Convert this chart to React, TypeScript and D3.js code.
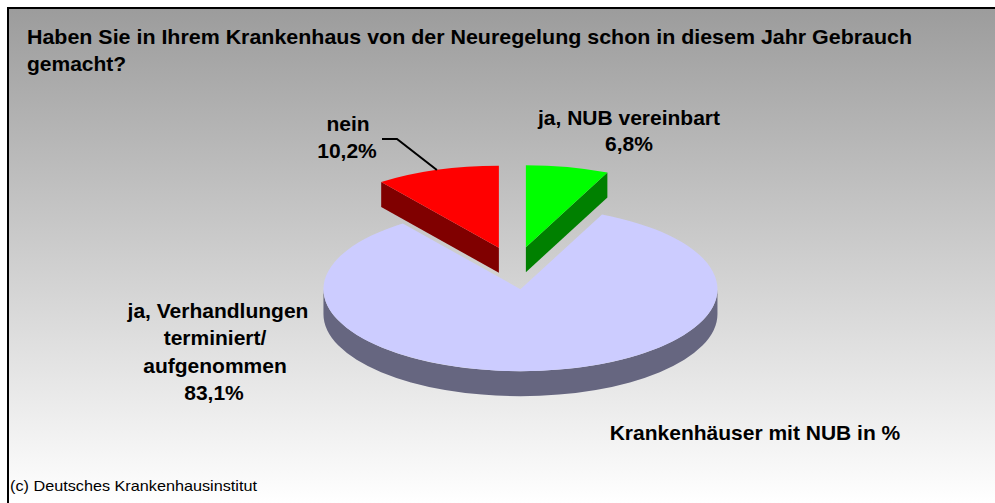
import React from "react";
import * as d3 from "d3";

const categories = ["ja, NUB vereinbart", "ja, Verhandlungen terminiert/ aufgenommen", "nein"];
const values = [6.8, 83.1, 10.2];
const labelLines = [
  ["ja, NUB vereinbart", "6,8%"],
  ["ja, Verhandlungen", "terminiert/", "aufgenommen", "83,1%"],
  ["nein", "10,2%"],
];
const topColors = ["#00ff00", "#ccccff", "#ff0000"];
const sideColors = ["#008000", "#666680", "#800000"];
const titleLines = [
  "Haben Sie in Ihrem Krankenhaus von der Neuregelung schon in diesem Jahr Gebrauch",
  "gemacht?",
];
const subtitle = "Krankenhäuser mit NUB in %";
const footer = "(c) Deutsches Krankenhausinstitut";

// layout
const W = 995;
const H = 503;
const CX = 515;
const CY = 268;
const RX = 197;
const RY = 82;
const DEPTH = 25;
const EXPLODE = 0.26;
const FONT = "'Liberation Sans', Arial, Helvetica, sans-serif";

const labelPos = [
  [{ x: 629, y: 125 }, { x: 629, y: 151 }],
  [{ x: 218, y: 318 }, { x: 215, y: 345 }, { x: 215, y: 373 }, { x: 214, y: 400 }],
  [{ x: 348, y: 131 }, { x: 347, y: 158 }],
];
const leaderStart = [[382, 139], [397, 139]];

export default function App() {
  const pie = d3.pie<number>().sort(null).value((d) => d);
  const arcs = pie(values);

  const slices = arcs.map((a, i) => {
    const mid = (a.startAngle + a.endAngle) / 2;
    const ox = CX + EXPLODE * RX * Math.sin(mid);
    const oy = CY - EXPLODE * RY * Math.cos(mid);
    const pt = (ang: number, dy = 0): [number, number] => [
      ox + RX * Math.sin(ang),
      oy - RY * Math.cos(ang) + dy,
    ];
    const a0 = a.startAngle;
    const a1 = a.endAngle;
    const large = a1 - a0 > Math.PI ? 1 : 0;
    const p0 = pt(a0);
    const p1 = pt(a1);
    const top = `M${ox},${oy}L${p0[0]},${p0[1]}A${RX},${RY} 0 ${large} 1 ${p1[0]},${p1[1]}Z`;
    const walls: string[] = [];
    const wall = (ang: number) => {
      const r = pt(ang);
      return `M${ox},${oy}L${r[0]},${r[1]}L${r[0]},${r[1] + DEPTH}L${ox},${oy + DEPTH}Z`;
    };
    if (Math.sin(a0) < -1e-6) walls.push(wall(a0));
    if (Math.sin(a1) > 1e-6) walls.push(wall(a1));
    const s = Math.max(a0, Math.PI / 2);
    const e = Math.min(a1, (3 * Math.PI) / 2);
    if (e > s) {
      const q0 = pt(s);
      const q1 = pt(e);
      const lg = e - s > Math.PI ? 1 : 0;
      walls.push(
        `M${q0[0]},${q0[1]}A${RX},${RY} 0 ${lg} 1 ${q1[0]},${q1[1]}L${q1[0]},${q1[1] + DEPTH}A${RX},${RY} 0 ${lg} 0 ${q0[0]},${q0[1] + DEPTH}Z`
      );
    }
    return { i, mid, top, walls, rimMid: pt(mid) };
  });

  const order = [...slices].sort((p, q) => Math.cos(q.mid) - Math.cos(p.mid));
  const red = slices[2];
  const leader = d3.line()([...(leaderStart as [number, number][]), red.rimMid]);

  return (
    <svg
      width={W}
      height={H}
      style={{ position: "absolute", left: 0, top: 0, display: "block" }}
      fontFamily={FONT}
    >
      <defs>
        <linearGradient id="bg" x1="0" y1="8" x2="0" y2={H} gradientUnits="userSpaceOnUse">
          <stop offset="0" stopColor="#9c9c9c" />
          <stop offset="1" stopColor="#ffffff" />
        </linearGradient>
      </defs>
      <rect x={0} y={0} width={W} height={H} fill="#ffffff" />
      <rect x={8} y={8} width={W + 10} height={H + 10} fill="url(#bg)" stroke="#000" strokeWidth={2} />

      {titleLines.map((t, k) => (
        <text
          key={k}
          x={27}
          y={44 + k * 27}
          fontSize={21}
          fontWeight="bold"
          fill="#000"
          textLength={k === 0 ? 885 : undefined}
          lengthAdjust={k === 0 ? "spacingAndGlyphs" : undefined}
        >
          {t}
        </text>
      ))}

      {order.map((s) => (
        <g key={s.i}>
          {s.walls.map((w, k) => (
            <path key={k} d={w} fill={sideColors[s.i]} />
          ))}
          <path d={s.top} fill={topColors[s.i]} />
        </g>
      ))}

      <path d={leader || ""} fill="none" stroke="#000" strokeWidth={2} />

      {labelLines.map((lines, i) =>
        lines.map((l, k) => (
          <text
            key={`${i}-${k}`}
            x={labelPos[i][k].x}
            y={labelPos[i][k].y}
            textAnchor="middle"
            fontSize={21}
            fontWeight="bold"
            fill="#000"
          >
            {l}
          </text>
        ))
      )}

      <text x={755} y={440} textAnchor="middle" fontSize={21} fontWeight="bold" fill="#000">
        {subtitle}
      </text>
      <text x={10} y={491} fontSize={15} fill="#000" textLength={247} lengthAdjust="spacingAndGlyphs">
        {footer}
      </text>
    </svg>
  );
}
